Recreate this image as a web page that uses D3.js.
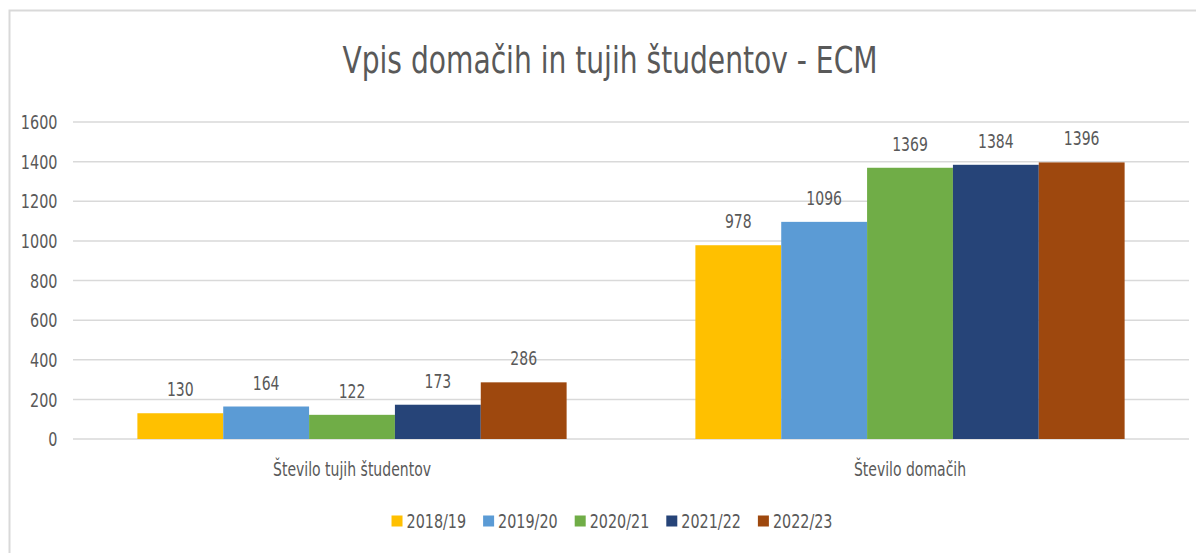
<!DOCTYPE html>
<html><head><meta charset="utf-8">
<script src="https://cdn.jsdelivr.net/npm/d3@7"></script>
<style>
html,body{margin:0;padding:0;background:#fff;}
text{font-family:"DejaVu Sans Condensed","DejaVu Sans",sans-serif;fill:#595959;}
</style></head><body>
<svg id="c" width="1196" height="553"></svg>
<script>
const categories = ["Število tujih študentov", "Število domačih"];
const years = ["2018/19", "2019/20", "2020/21", "2021/22", "2022/23"];
const values = {
  "2018/19": [130, 978],
  "2019/20": [164, 1096],
  "2020/21": [122, 1369],
  "2021/22": [173, 1384],
  "2022/23": [286, 1396]
};
const colors = ["#FFC000", "#5B9BD5", "#70AD47", "#264478", "#9E480E"];
const yTicks = [0, 200, 400, 600, 800, 1000, 1200, 1400, 1600];
const title = "Vpis domačih in tujih študentov - ECM";

const SX = 0.8;
const svg = d3.select("#c");
function addText(parent, x, y, str, size, anchor, sx, dy) {
  const g = parent.append("g").attr("transform", `translate(${x},${y}) scale(${sx},1)`);
  const t = g.append("text").attr("x",0).attr("y",0).attr("text-anchor",anchor||"start")
    .style("font-size", size+"px").text(str);
  if (dy) t.attr("dy", dy);
  return t;
}

// chart border
svg.append("path").attr("d","M9.5,553 V10.5 H1196").attr("fill","none").attr("stroke","#d9d9d9").attr("stroke-width",2);

const x0 = d3.scaleBand().domain(categories).range([73,1189]).paddingInner(0).paddingOuter(0);
const x1 = d3.scaleBand().domain(years).range([0,x0.bandwidth()]).paddingInner(0).paddingOuter(0.75);
const y = d3.scaleLinear().domain([0,1600]).range([439,122]);
const color = d3.scaleOrdinal().domain(years).range(colors);

// gridlines
svg.append("g").selectAll("line").data(yTicks).join("line")
  .attr("x1",73).attr("x2",1189).attr("y1",d=>y(d)).attr("y2",d=>y(d))
  .attr("stroke","#d9d9d9").attr("stroke-width",1.5);

// y axis labels
const fmt = d3.format("d");
const ga = svg.append("g");
yTicks.forEach(v => addText(ga, 57.5, y(v), fmt(v), 20, "end", SX, "0.36em"));

// bars
const rows = [];
years.forEach(yr => categories.forEach((c,i) => rows.push({yr, c, v: values[yr][i]})));
svg.append("g").selectAll("rect").data(rows).join("rect")
  .attr("x",d=>x0(d.c)+x1(d.yr)).attr("width",x1.bandwidth())
  .attr("y",d=>y(d.v)).attr("height",d=>y(0)-y(d.v))
  .attr("fill",d=>color(d.yr));

// data labels
const gl = svg.append("g");
rows.forEach(d => addText(gl, x0(d.c)+x1(d.yr)+x1.bandwidth()/2, y(d.v)-17, d.v, 19, "middle", 0.82));

// category labels
const gc = svg.append("g");
categories.forEach(c => addText(gc, x0(c)+x0.bandwidth()/2, 476, c, 19, "middle", 0.82));

// title
addText(svg, 610, 73, title, 37, "middle", 0.845);

// legend
const lg = svg.append("g");
let cx = 0;
const LS = 0.84, GAP = 17;
years.forEach((yr,i)=>{
  const g = lg.append("g").attr("transform",`translate(${cx},521)`);
  g.append("rect").attr("x",0).attr("y",-5.5).attr("width",11).attr("height",11).attr("fill",colors[i]);
  const t = addText(g, 15, 0, yr, 19, "start", LS, "0.36em");
  const w = t.node().getComputedTextLength()*LS;
  cx += 15 + w + GAP;
});
const totalW = cx - GAP;
lg.attr("transform",`translate(${612-totalW/2},0)`);
</script></body></html>
